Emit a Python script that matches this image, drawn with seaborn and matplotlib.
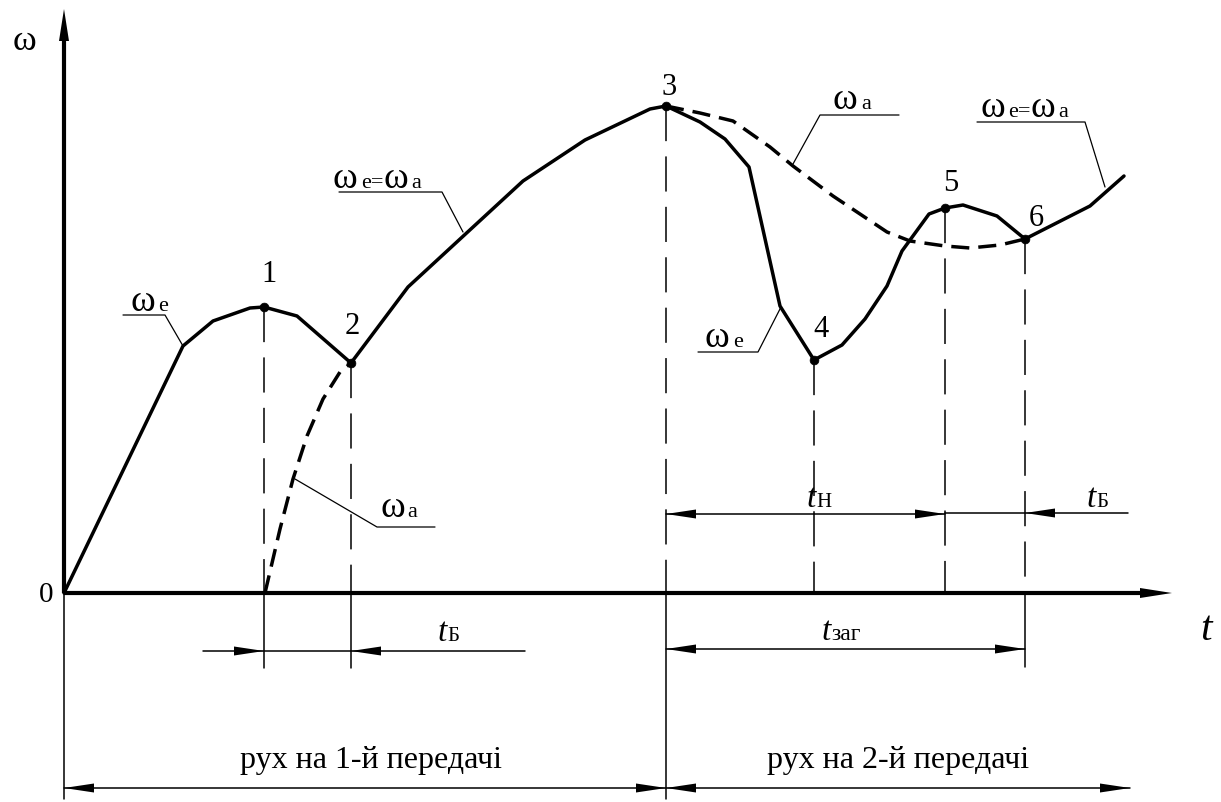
import matplotlib
matplotlib.use("Agg")
import matplotlib.pyplot as plt
import seaborn as sns

# ---------------- data (t = time, w = angular speed) ----------------
# engine speed before clutch lock-up (1st gear)
t_e1 = [0, 119, 149, 186, 200, 233, 287]
w_e1 = [0, 247, 272, 285, 286, 277, 230]
# we = wa on 1st gear
t_ea1 = [287, 344, 459, 521, 586, 602]
w_ea1 = [230, 306, 412, 453, 484, 487]
# wheel (vehicle) speed during slipping, 1st gear
t_a1 = [201, 216, 229, 243, 259, 276, 287]
w_a1 = [0, 64, 114, 157, 194, 221, 230]
# engine speed after gear change
t_e2 = [602, 636, 661, 685, 716, 750, 778, 801, 823, 838, 865, 881, 899, 933, 961]
w_e2 = [487, 471, 454, 426, 287, 233, 248, 274, 307, 342, 379, 385, 388, 377, 354]
# vehicle speed after gear change
t_a2 = [602, 636, 669, 706, 729, 769, 823, 846, 881, 906, 936, 961]
w_a2 = [487, 480, 472, 446, 427, 397, 361, 352, 347, 345, 348, 354]
# we = wa on 2nd gear
t_ea2 = [961, 1026, 1060]
w_ea2 = [354, 387, 417]
# characteristic points
point_labels = ["1", "2", "3", "4", "5", "6"]
t_pts = [200, 287, 602, 750, 881, 961]
w_pts = [286, 230, 487, 233, 385, 354]

SERIF = ["Liberation Serif", "DejaVu Serif"]

sns.set_style("white")
plt.rcParams["font.family"] = SERIF

fig = plt.figure(figsize=(12.21, 8.03), dpi=100)
ax = fig.add_axes([0, 0, 1, 1])
ax.set_xlim(-64, 1157)
ax.set_ylim(-209, 594)
ax.axis("off")
K = "black"
renderer = fig.canvas.get_renderer()


def head(tip_x, tip_y, direction, length=30, half=4.5):
    """filled arrow head; direction one of 'l','r','u'"""
    if direction == "r":
        pts = [(tip_x, tip_y), (tip_x - length, tip_y + half), (tip_x - length, tip_y - half)]
    elif direction == "l":
        pts = [(tip_x, tip_y), (tip_x + length, tip_y + half), (tip_x + length, tip_y - half)]
    else:
        pts = [(tip_x, tip_y), (tip_x - half, tip_y - length), (tip_x + half, tip_y - length)]
    ax.fill([p[0] for p in pts], [p[1] for p in pts], color=K, lw=0, zorder=5)


def rich(x, y, parts):
    for s, size, style, gap in parts:
        txt = ax.text(x, y, s, fontsize=size, fontstyle=style, family=SERIF,
                      va="baseline", ha="left", color=K)
        x += txt.get_window_extent(renderer).width + gap


# ---------------- axes ----------------
ax.plot([0, 1080], [0, 0], color=K, lw=3, solid_capstyle="butt")
ax.plot([0, 0], [0, 555], color=K, lw=3, solid_capstyle="butt")
head(1108, 0, "r", length=32, half=5)
head(0, 584, "u", length=32, half=5)

# ---------------- curves ----------------
solid_kw = dict(color=K, lw=2.5, sort=False, estimator=None, ax=ax)
sns.lineplot(x=t_e1, y=w_e1, **solid_kw)
sns.lineplot(x=t_ea1, y=w_ea1, **solid_kw)
sns.lineplot(x=t_e2, y=w_e2, **solid_kw)
sns.lineplot(x=t_ea2, y=w_ea2, **solid_kw)
for tt, ww in [(t_a1, w_a1), (t_a2, w_a2)]:
    sns.lineplot(x=tt, y=ww, **solid_kw)
    ax.get_lines()[-1].set_dashes((5.2, 2.6))

sns.scatterplot(x=t_pts, y=w_pts, color=K, s=40, ax=ax, zorder=6, edgecolor=K)

# ---------------- projection lines ----------------
for tp, wp in zip(t_pts, w_pts):
    l, = ax.plot([tp, tp], [wp, 0], color=K, lw=1.1)
    l.set_dashes((23, 10))
for tp, bottom in [(0, -206), (200, -75), (287, -75), (602, -206), (961, -74)]:
    ax.plot([tp, tp], [0, bottom], color=K, lw=1.1)

# ---------------- dimension lines ----------------
DL = dict(color=K, lw=1.1)
# t_B (1st gear)
ax.plot([139, 461], [-58, -58], **DL)
head(200, -58, "r"); head(287, -58, "l")
# t_n and t_B (2nd gear)
ax.plot([602, 881], [79, 79], **DL)
head(602, 79, "l"); head(881, 79, "r")
ax.plot([881, 1064], [80, 80], **DL)
head(961, 80, "l")
# t_zag
ax.plot([602, 961], [-56, -56], **DL)
head(602, -56, "l"); head(961, -56, "r")
# motion in gears
ax.plot([0, 1066], [-195, -195], **DL)
head(0, -195, "l"); head(602, -195, "r")
head(602, -195, "l"); head(1066, -195, "r")

# ---------------- leaders ----------------
LL = dict(color=K, lw=0.9)
ax.plot([59, 101, 119], [278, 278, 247], **LL)
ax.plot([275, 378, 399], [401, 401, 361], **LL)
ax.plot([231, 313, 371], [114, 66, 66], **LL)
ax.plot([729, 756, 835], [429, 478, 478], **LL)
ax.plot([634, 694, 717], [241, 241, 286], **LL)
ax.plot([913, 1021, 1041], [471, 471, 406], **LL)

W, S, G = 27, 16, 3
rich(66, 283, [("ω", W, "normal", G), ("e", S, "normal", 0)])
rich(269, 406, [("ω", W, "normal", G), ("e=", S, "normal", 0),
                ("ω", W, "normal", G), ("a", S, "normal", 0)])
rich(316, 77, [("ω", W, "normal", G), ("a", S, "normal", 0)])
rich(769, 485, [("ω", W, "normal", G), ("a", S, "normal", 0)])
rich(641, 247, [("ω", W, "normal", G), ("e", S, "normal", 0)])
rich(916, 477, [("ω", W, "normal", G), ("e=", S, "normal", 0),
                ("ω", W, "normal", G), ("a", S, "normal", 0)])

# axis labels
ax.text(-51, 544, "ω", fontsize=26, va="baseline", ha="left", color=K)
ax.text(-18, -8, "0", fontsize=21, va="baseline", ha="center", color=K)
ax.text(1136, -46, "t", fontsize=30, fontstyle="italic", va="baseline", ha="left", color=K)

# point numbers
num_pos = [(205, 312), (288, 260), (605, 499), (757, 257), (887, 403), (972, 368)]
for lab, (px, py) in zip(point_labels, num_pos):
    ax.text(px, py, lab, fontsize=22, va="baseline", ha="center", color=K)

# dimension labels
T, SUB = 24, 15
rich(374, -47, [("t", T, "italic", 0), ("Б", SUB, "normal", 0)])
rich(743, 87, [("t", T, "italic", 0), ("Н", SUB, "normal", 0)])
rich(1023, 87, [("t", T, "italic", 0), ("Б", SUB, "normal", 0)])
rich(758, -46, [("t", T, "italic", 0), ("заг", SUB + 2, "normal", 0)])

ax.text(307, -174, "рух на 1-й передачі", fontsize=23, va="baseline", ha="center", color=K)
ax.text(834, -174, "рух на 2-й передачі", fontsize=23, va="baseline", ha="center", color=K)

fig.savefig("out.png", dpi=100, facecolor="white")
